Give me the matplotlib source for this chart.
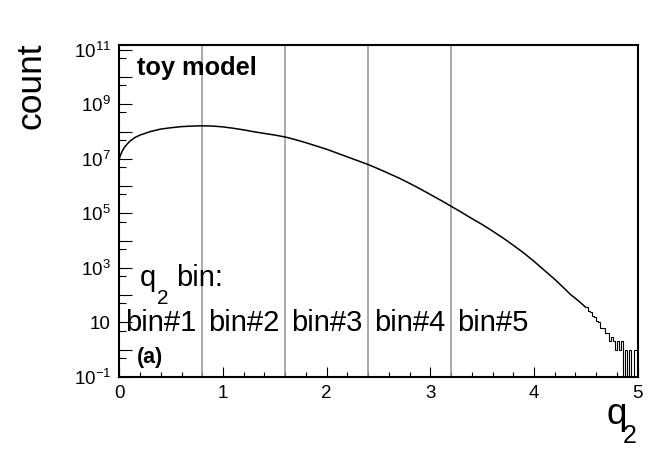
import numpy as np
import matplotlib
matplotlib.use("Agg")
import matplotlib.pyplot as plt
from matplotlib.ticker import FixedLocator, MultipleLocator
import matplotlib.transforms as mtransforms

plt.rcParams["font.family"] = ["Liberation Sans", "DejaVu Sans"]
plt.rcParams["mathtext.fontset"] = "custom"
plt.rcParams["mathtext.rm"] = "Liberation Sans"
plt.rcParams["mathtext.it"] = "Liberation Sans"
plt.rcParams["mathtext.bf"] = "Liberation Sans:bold"

# smooth part of the toy-model q2 spectrum
q2_pts = [0.0, 0.01, 0.03, 0.055, 0.1, 0.15, 0.2, 0.3, 0.4, 0.5, 0.6, 0.7, 0.8,
          0.9, 1.0, 1.1, 1.2, 1.3, 1.4, 1.5, 1.6, 1.7, 1.8, 1.9, 2.0, 2.1, 2.2,
          2.3, 2.4, 2.5, 2.6, 2.7, 2.8, 2.9, 3.0, 3.1, 3.2, 3.3, 3.4, 3.5, 3.6,
          3.7, 3.8, 3.9, 4.0, 4.1, 4.2, 4.3, 4.35, 4.4, 4.45, 4.5]
log_count_pts = [7.0, 7.12, 7.30, 7.45, 7.64, 7.78, 7.87, 8.00, 8.09, 8.14, 8.18,
                 8.20, 8.21, 8.20, 8.17, 8.12, 8.06, 7.99, 7.93, 7.87, 7.80, 7.70,
                 7.59, 7.47, 7.35, 7.21, 7.07, 6.93, 6.79, 6.63, 6.46, 6.29, 6.10,
                 5.90, 5.69, 5.48, 5.26, 5.04, 4.81, 4.59, 4.35, 4.10, 3.83, 3.55,
                 3.24, 2.91, 2.58, 2.22, 2.03, 1.88, 1.72, 1.55]

# noisy tail, bins of 0.02 from 4.50 to 5.00
tail_lo = 4.50
tail_width = 0.02
tail_counts = [36, 26, 25, 17, 16, 11, 10, 6, 6, 4,
               4, 2, 3, 2, 1, 2, 1, 2, 0, 1,
               0, 1, 0, 1, 1]

bin_edges = [0.0, 0.8, 1.6, 2.4, 3.2]
bin_names = ["bin#1", "bin#2", "bin#3", "bin#4", "bin#5"]

y_decades = list(range(-1, 12))
y_tick_labels = ["$10^{-1}$", "", "10", "", "$10^{3}$", "", "$10^{5}$", "",
                 "$10^{7}$", "", "$10^{9}$", "", "$10^{11}$"]

fig = plt.figure(figsize=(6.64, 4.49), dpi=100)
ax = fig.add_axes([0.1797, 0.1604, 0.7807, 0.7394])

counts = 10 ** np.array(log_count_pts)
ax.plot(q2_pts, counts, color="black", lw=1.1, zorder=3)
ax.vlines(q2_pts[0], 1e-3, counts[0], color="black", lw=1.1, zorder=3)

edges = tail_lo + tail_width * np.arange(len(tail_counts) + 1)
ax.stairs(np.array(tail_counts, dtype=float), edges, baseline=None,
          color="black", lw=0.8, zorder=3)

# bin boundaries
for e in bin_edges[1:]:
    ax.axvline(e, color="0.6", lw=1.2, zorder=2)

ax.set_xlim(0, 5)
ax.set_yscale("log")
ax.set_ylim(1e-1, 1.49e11)

ax.set_yticks([10.0 ** k for k in y_decades])
ax.set_yticklabels(y_tick_labels)
ax.yaxis.set_minor_locator(FixedLocator([5 * 10.0 ** k for k in range(-1, 11)]))

ax.xaxis.set_major_locator(MultipleLocator(1))
ax.xaxis.set_minor_locator(MultipleLocator(0.2))

ax.tick_params(axis="y", which="major", direction="in", length=9.5, width=0.8,
               labelsize=13.5, pad=6)
ax.tick_params(axis="y", which="minor", direction="in", length=4.8, width=0.8)
ax.tick_params(axis="x", which="major", direction="in", length=7.2, width=0.8,
               labelsize=13.5, pad=6)
ax.tick_params(axis="x", which="minor", direction="in", length=3.6, width=0.8)
ax.tick_params(top=False, right=False, which="both")
for s in ax.spines.values():
    s.set_linewidth(1.5)

trans = mtransforms.blended_transform_factory(ax.transData, ax.transAxes)
for lo, name in zip(bin_edges, bin_names):
    ax.text(lo + 0.055, 0.1386, name, transform=trans, fontsize=21,
            ha="left", va="baseline")

# "q2 bin:" with a ROOT-like low subscript
fig.text(140 / 664, 1 - 286 / 449, "q", fontsize=21, ha="left", va="baseline")
fig.text(157 / 664, 1 - 304 / 449, "2", fontsize=15, ha="left", va="baseline")
fig.text(176 / 664, 1 - 286 / 449, "bin:", fontsize=21, ha="left", va="baseline")

ax.text(0.034, 0.9096, "toy model", transform=ax.transAxes, fontsize=18.3,
        fontweight="bold", ha="left", va="baseline")
ax.text(0.034, 0.042, "(a)", transform=ax.transAxes, fontsize=15.5,
        fontweight="bold", ha="left", va="baseline")

fig.text(0.047, 0.905, "count", rotation=90, fontsize=25.5, ha="center", va="top")
fig.text(606 / 664, 1 - 424 / 449, "q", fontsize=26.5, ha="left", va="baseline")
fig.text(623 / 664, 1 - 443 / 449, "2", fontsize=18, ha="left", va="baseline")

plt.savefig("out.png", dpi=100)
